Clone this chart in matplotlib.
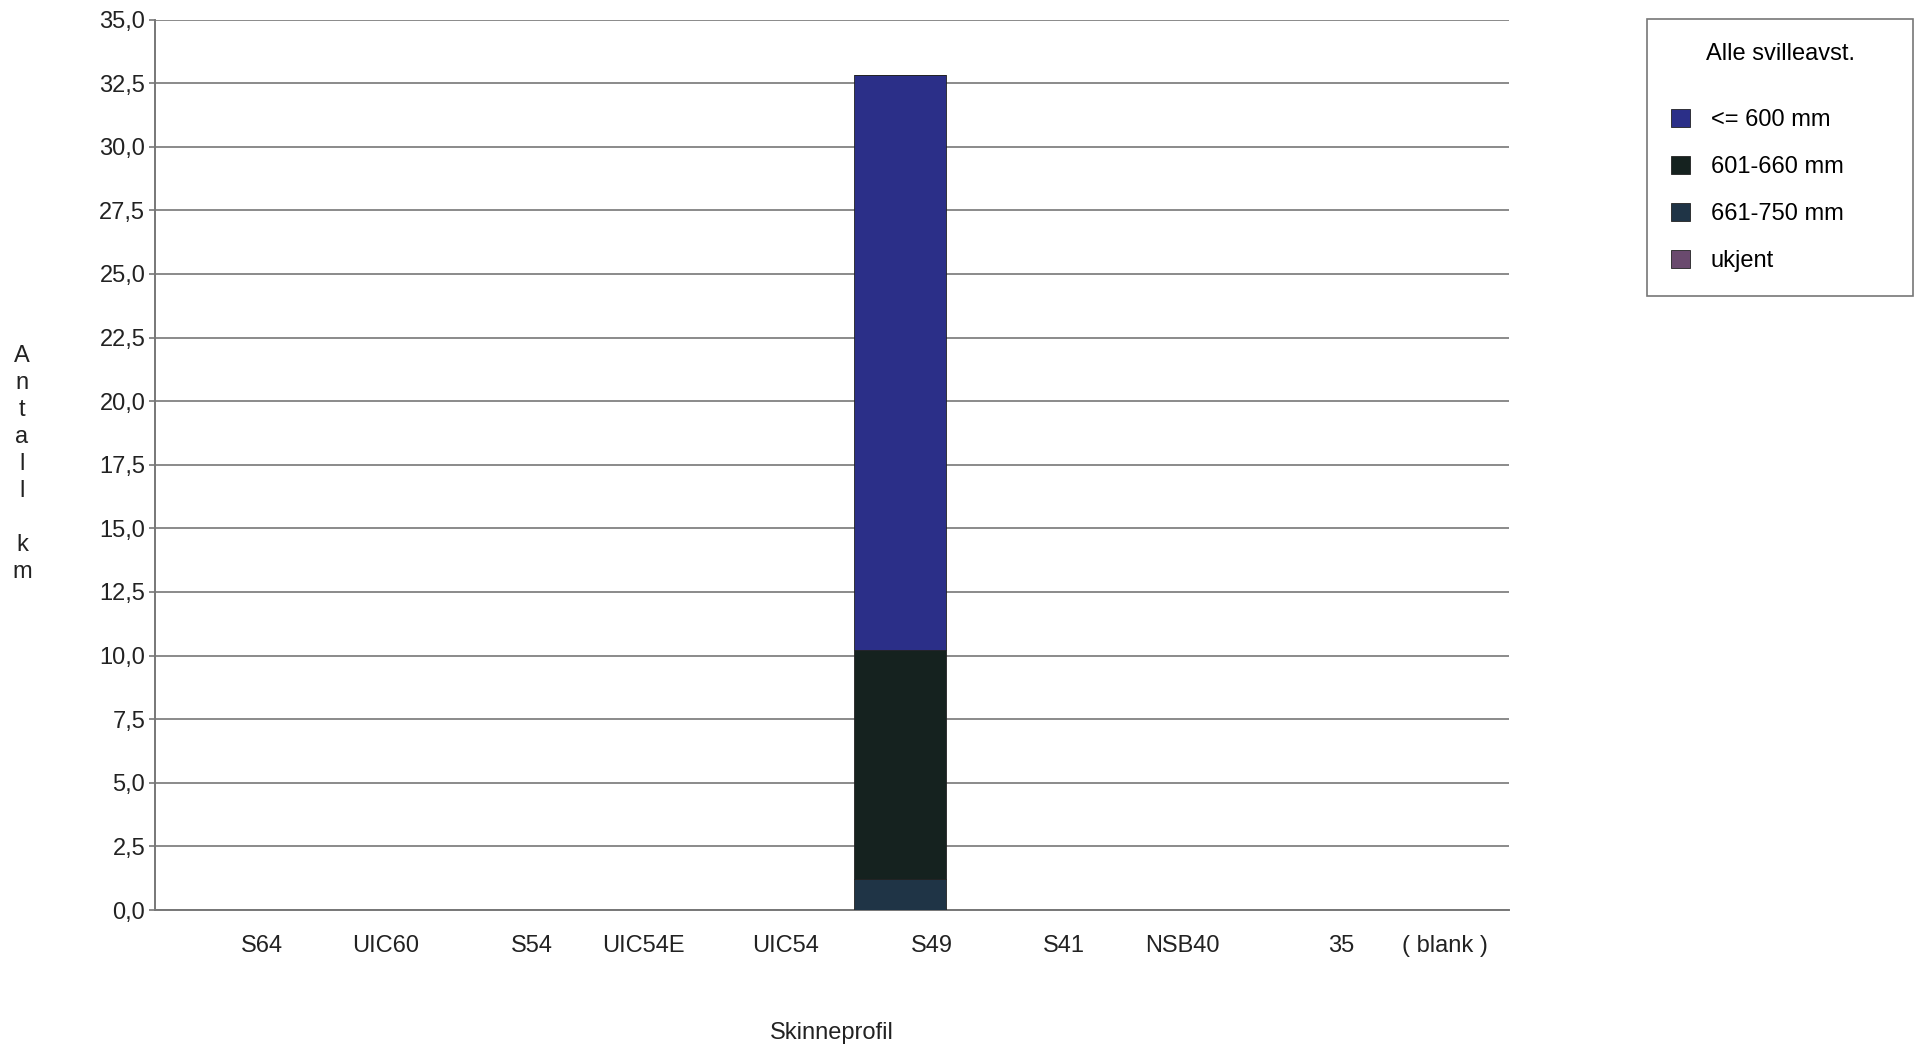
import matplotlib
matplotlib.use("Agg")
import matplotlib.pyplot as plt
import numpy as np

plt.rcParams["font.family"] = ["Liberation Sans", "DejaVu Sans"]

# km of track per rail profile, split by sleeper spacing
profiles = ["S64", "UIC60", "S54", "UIC54E", "UIC54", "S49", "S41", "NSB40", "35", "( blank )"]
km_661_750 = [0, 0, 0, 0, 0, 1.2, 0, 0, 0, 0]
km_601_660 = [0, 0, 0, 0, 0, 9.0, 0, 0, 0, 0]
km_le_600 = [0, 0, 0, 0, 0, 22.6, 0, 0, 0, 0]
km_ukjent = [0, 0, 0, 0, 0, 0, 0, 0, 0, 0]

# stacking order bottom -> top, legend order is reversed
series = [
    ("661-750 mm", km_661_750, "#1f3446"),
    ("601-660 mm", km_601_660, "#15221f"),
    ("<= 600 mm", km_le_600, "#2b2f88"),
    ("ukjent", km_ukjent, "#6a4a6e"),
]
# tick labels sit a bit right of the slot centres
label_shift = [0.29, 0.20, 0.28, 0.11, 0.16, 0.24, 0.21, 0.09, 0.26, 0.03]

FS = 17

fig = plt.figure(figsize=(19.16, 10.48), dpi=100)
ax = fig.add_axes([155 / 1916, 1 - 910 / 1048, (1509 - 155) / 1916, (910 - 19.5) / 1048])

x = np.arange(len(profiles))
bottom = np.zeros(len(profiles))
handles = {}
for name, vals, col in series:
    vals = np.array(vals, dtype=float)
    bars = ax.bar(x, vals, width=0.68, bottom=bottom, color=col,
                  edgecolor="#222222", linewidth=0.6, zorder=3, label=name)
    handles[name] = bars
    bottom += vals

ax.set_xlim(-0.5, len(profiles) - 0.5)
ax.set_ylim(0, 35)
yt = np.arange(0, 35.01, 2.5)
ax.set_yticks(yt)
ax.set_yticklabels([f"{v:.1f}".replace(".", ",") for v in yt], fontsize=FS, color="#222222")
ax.set_xticks(x + np.array(label_shift))
ax.set_xticklabels(profiles, fontsize=FS, color="#222222")
ax.tick_params(axis="x", length=0, pad=18)
ax.tick_params(axis="y", length=4, width=1.2, color="#777777", pad=3)
ax.yaxis.grid(True, color="#8a8a8a", linewidth=1.4, zorder=0)
ax.set_axisbelow(True)
for s in ("top", "right"):
    ax.spines[s].set_visible(False)
for s in ("left", "bottom"):
    ax.spines[s].set_color("#777777")
    ax.spines[s].set_linewidth(1.4)

fig.text(22 / 1916, 1 - 464 / 1048, "A\nn\nt\na\nl\nl\n\nk\nm", fontsize=FS,
         ha="center", va="center", linespacing=1.3, color="#222222")
fig.text(832 / 1916, 1 - 1033 / 1048, "Skinneprofil", fontsize=FS,
         ha="center", va="center", color="#222222")

order = ["<= 600 mm", "601-660 mm", "661-750 mm", "ukjent"]
leg = fig.legend([handles[n] for n in order], order, loc="upper left", mode="expand",
                 bbox_to_anchor=(1647 / 1916, 1 - 19 / 1048 - 0.2, 266 / 1916, 0.2),
                 borderaxespad=0, title="Alle svilleavst.",
                 fontsize=FS, title_fontsize=FS, frameon=True, fancybox=False,
                 edgecolor="#555555", borderpad=1.0, labelspacing=1.05,
                 handlelength=0.8, handleheight=0.8, handletextpad=0.9)
leg.get_frame().set_linewidth(1.2)
leg._legend_box.sep = 32

fig.savefig("out.png", dpi=100, facecolor="white")
